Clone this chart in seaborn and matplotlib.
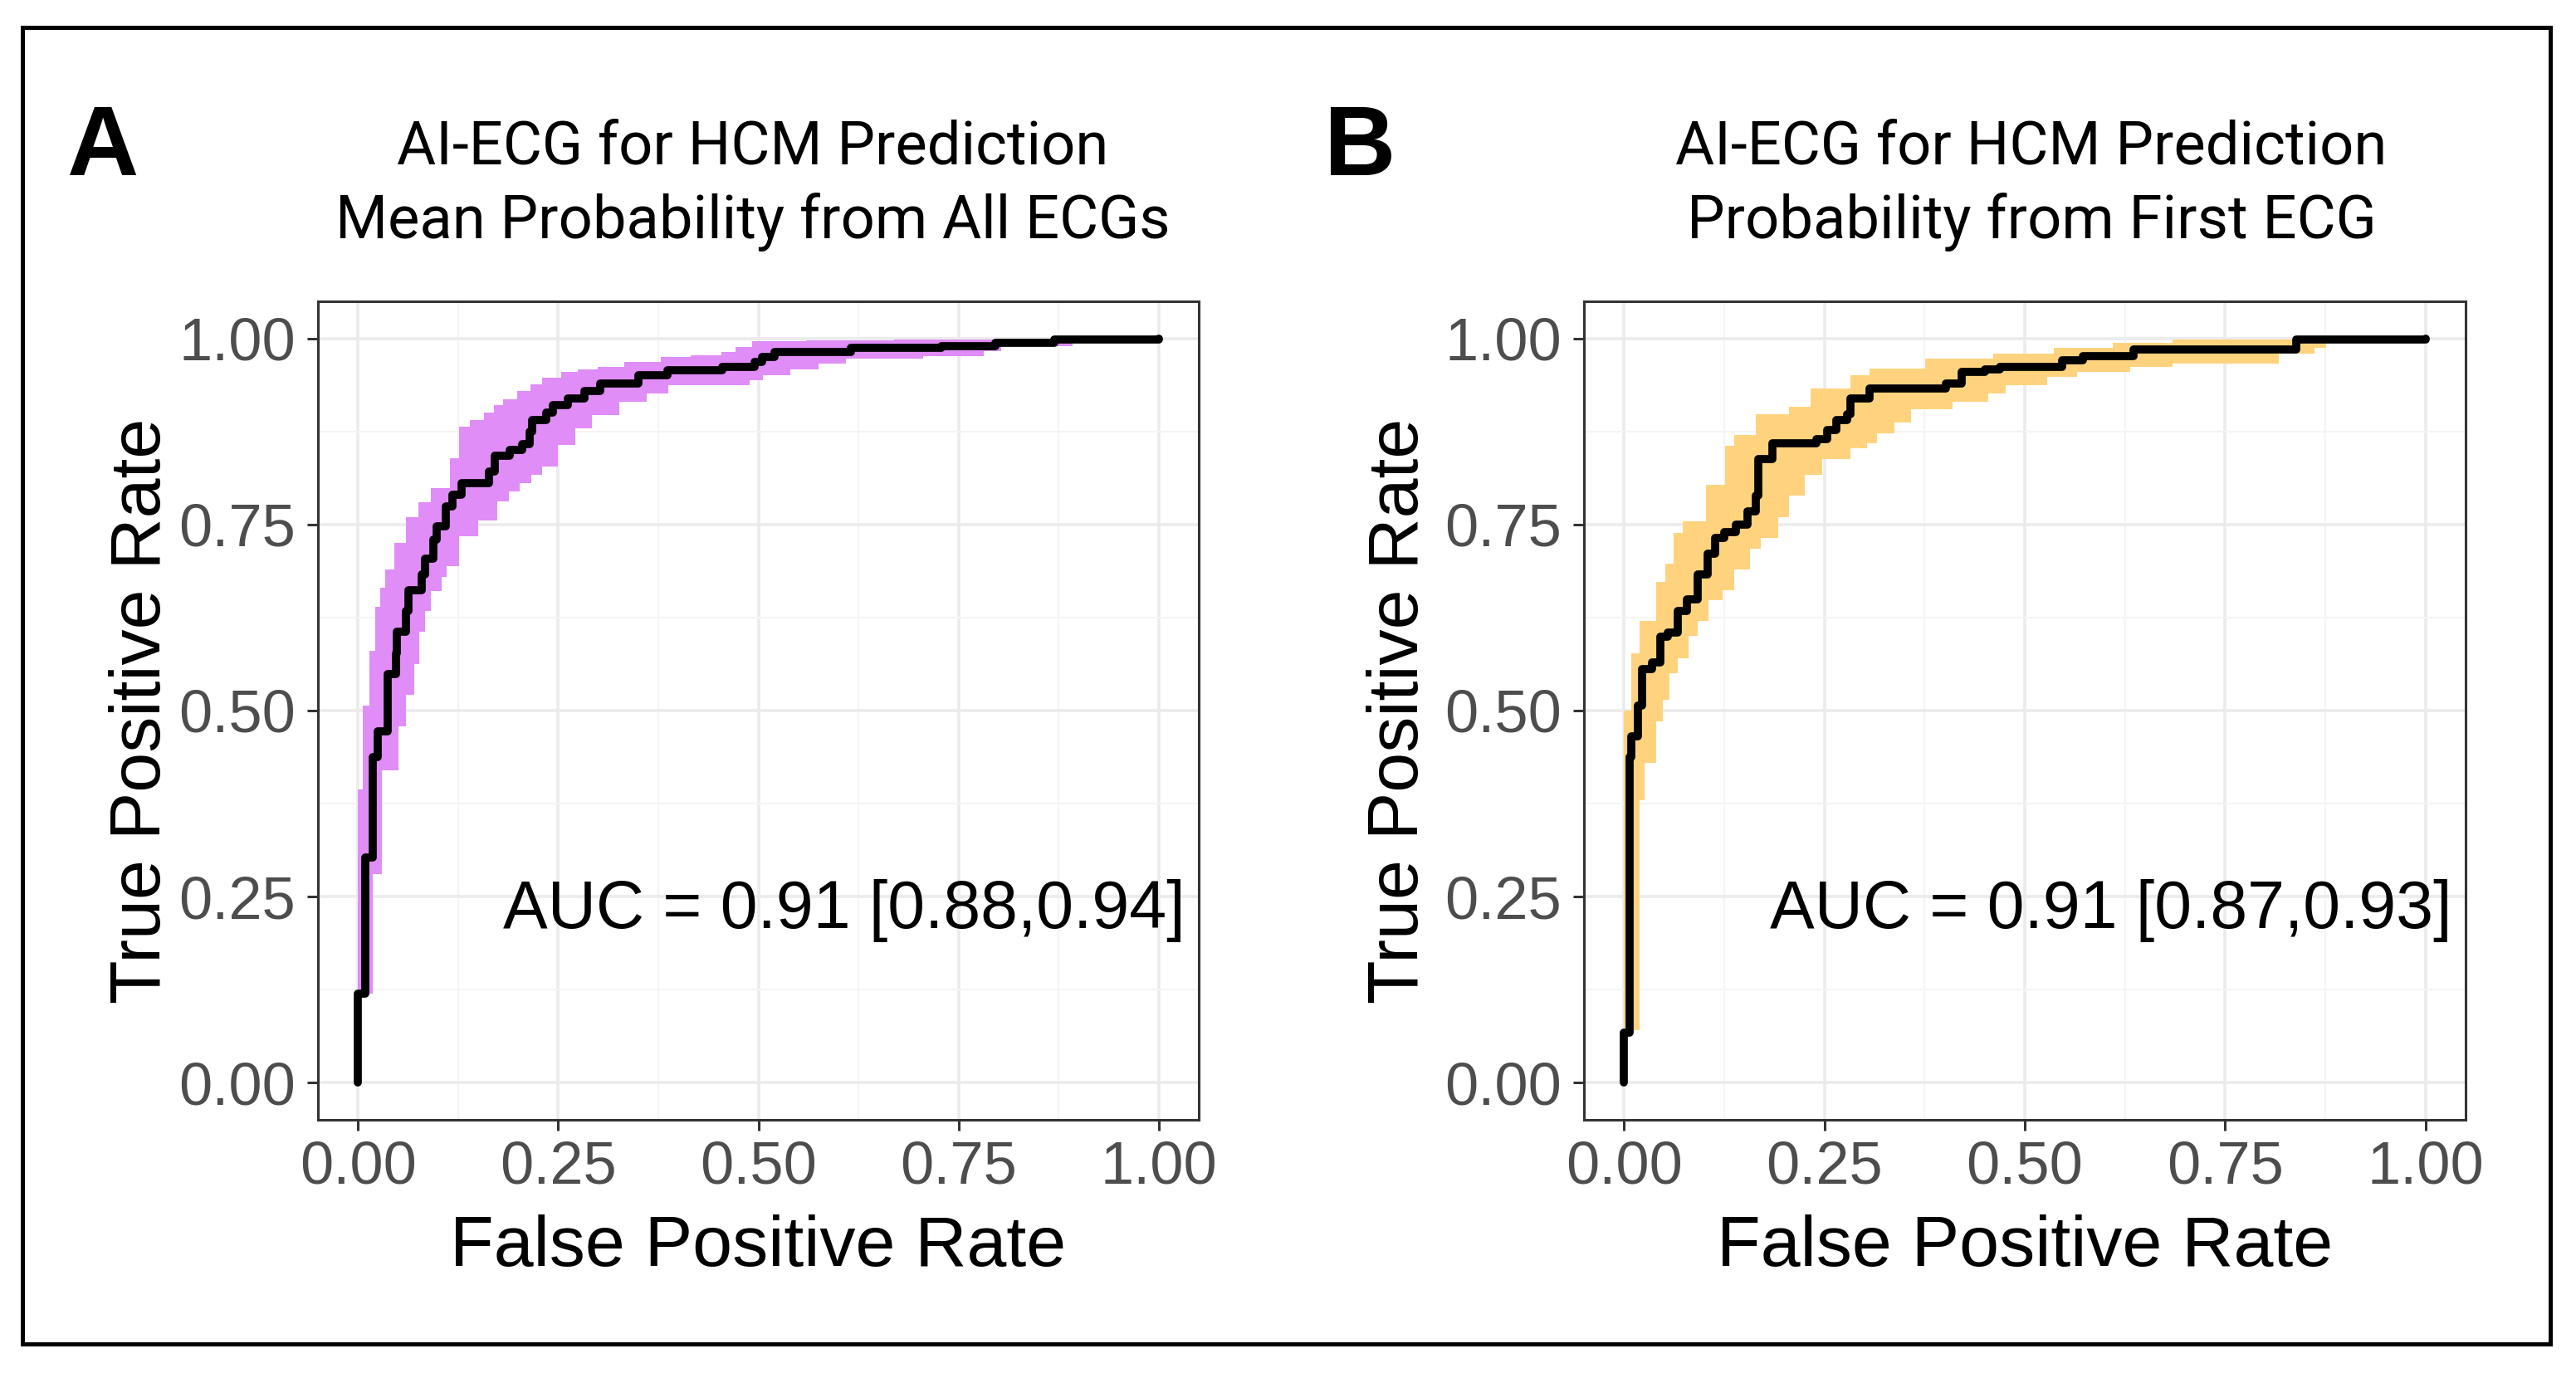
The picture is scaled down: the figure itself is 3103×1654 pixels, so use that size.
import numpy as np
import pandas as pd
import matplotlib
matplotlib.use("Agg")
import matplotlib.pyplot as plt
import seaborn as sns
from matplotlib.patches import Rectangle
from matplotlib.ticker import MultipleLocator, FormatStrFormatter

# ---------------- data ----------------
# Panel A: mean probability from all ECGs
a_fpr = [0, 0, 0.0096, 0.018, 0.025, 0.037, 0.0475, 0.049, 0.060, 0.063,
         0.080, 0.084, 0.094, 0.098, 0.110, 0.118, 0.129, 0.164, 0.171, 0.190,
         0.205, 0.214, 0.218, 0.235, 0.243, 0.262, 0.283, 0.302, 0.350, 0.386,
         0.455, 0.495, 0.505, 0.520, 0.616, 0.729, 0.796, 0.870, 1.0]
a_tpr = [0, 0.12, 0.303, 0.437, 0.472, 0.549, 0.577, 0.606, 0.634, 0.662,
         0.683, 0.704, 0.730, 0.748, 0.774, 0.790, 0.806, 0.821, 0.842, 0.850,
         0.858, 0.875, 0.890, 0.900, 0.911, 0.920, 0.929, 0.940, 0.951, 0.957,
         0.962, 0.969, 0.975, 0.982, 0.987, 0.990, 0.994, 0.999, 1.0]
a_hi_x = [0, 0.006, 0.014, 0.022, 0.028, 0.034, 0.045, 0.060, 0.075, 0.0915,
          0.115, 0.126, 0.140, 0.157, 0.170, 0.181, 0.199, 0.215, 0.230, 0.254,
          0.275, 0.299, 0.333, 0.378, 0.415, 0.454, 0.471, 0.492, 0.560, 0.669,
          0.796, 1.0]
a_hi_y = [0.394, 0.507, 0.580, 0.640, 0.665, 0.690, 0.725, 0.760, 0.780, 0.799,
          0.839, 0.882, 0.890, 0.900, 0.910, 0.918, 0.929, 0.938, 0.947, 0.955,
          0.958, 0.962, 0.969, 0.975, 0.978, 0.982, 0.989, 0.996, 0.998, 0.999,
          1.0, 1.0]
a_lo_x = [0, 0.018, 0.030, 0.051, 0.060, 0.070, 0.077, 0.084, 0.0915, 0.104,
          0.111, 0.126, 0.150, 0.174, 0.188, 0.202, 0.216, 0.230, 0.250, 0.271,
          0.292, 0.326, 0.361, 0.388, 0.489, 0.506, 0.540, 0.575, 0.609, 0.706,
          0.781, 0.803, 0.892, 1.0]
a_lo_y = [0.12, 0.28, 0.42, 0.479, 0.521, 0.563, 0.606, 0.634, 0.661, 0.680,
          0.694, 0.734, 0.755, 0.781, 0.794, 0.806, 0.817, 0.828, 0.857, 0.879,
          0.897, 0.915, 0.926, 0.937, 0.944, 0.951, 0.958, 0.966, 0.973, 0.976,
          0.983, 0.990, 0.999, 1.0]

# Panel B: probability from first ECG
b_fpr = [0, 0, 0.007, 0.0086, 0.017, 0.0225, 0.035, 0.045, 0.055, 0.067, 0.078, 0.092,
         0.104, 0.114, 0.125, 0.140, 0.154, 0.164, 0.168, 0.185, 0.240, 0.254, 0.265,
         0.278, 0.282, 0.306, 0.402, 0.421, 0.450, 0.469, 0.547, 0.573, 0.636, 0.839, 1.0]
b_tpr = [0, 0.067, 0.437, 0.465, 0.507, 0.556, 0.565, 0.599, 0.605, 0.634, 0.650, 0.683,
         0.711, 0.732, 0.740, 0.750, 0.768, 0.789, 0.838, 0.859, 0.865, 0.877, 0.890,
         0.898, 0.919, 0.933, 0.940, 0.955, 0.958, 0.962, 0.971, 0.976, 0.985, 0.999, 1.0]
b_hi_x = [0, 0.0086, 0.019, 0.040, 0.052, 0.062, 0.073, 0.102, 0.126, 0.137, 0.164, 0.206,
          0.233, 0.282, 0.306, 0.376, 0.461, 0.536, 0.610, 0.684, 1.0]
b_hi_y = [0.50, 0.577, 0.62, 0.673, 0.697, 0.739, 0.754, 0.803, 0.856, 0.870, 0.898, 0.908,
          0.933, 0.951, 0.960, 0.973, 0.980, 0.987, 0.994, 0.999, 1.0]
b_lo_x = [0, 0.019, 0.026, 0.040, 0.048, 0.057, 0.067, 0.081, 0.092, 0.105, 0.123, 0.137,
          0.157, 0.171, 0.192, 0.206, 0.226, 0.247, 0.282, 0.303, 0.316, 0.337, 0.358,
          0.410, 0.454, 0.476, 0.528, 0.565, 0.632, 0.684, 0.817, 0.861, 0.876, 1.0]
b_lo_y = [0.07, 0.38, 0.43, 0.486, 0.514, 0.55, 0.57, 0.60, 0.62, 0.648, 0.662, 0.69,
          0.718, 0.732, 0.76, 0.789, 0.817, 0.838, 0.852, 0.859, 0.873, 0.887, 0.905,
          0.915, 0.926, 0.937, 0.948, 0.955, 0.962, 0.966, 0.98, 0.987, 1.0, 1.0]

panel_letters = ["A", "B"]
title_line1 = ["AI-ECG for HCM Prediction", "AI-ECG for HCM Prediction"]
title_line2 = ["Mean Probability from All ECGs", "Probability from First ECG"]
auc_labels = ["AUC = 0.91 [0.88,0.94]", "AUC = 0.91 [0.87,0.93]"]
band_colors = ["#E08DF7", "#FFD37E"]
x_label = "False Positive Rate"
y_label = "True Positive Rate"
ticks = [0, 0.25, 0.5, 0.75, 1.0]

# ---------------- style ----------------
sns.set_theme(style="white")
plt.rcParams["font.family"] = ["Liberation Sans", "DejaVu Sans"]

W, H = 3103, 1654
fig = plt.figure(figsize=(W / 100, H / 100), dpi=100)
fig.patch.set_facecolor("white")


def fx(x):
    return x / W


def fy(y):
    return 1 - y / H


def add_ax(l, t, r, b):
    return fig.add_axes([l / W, 1 - b / H, (r - l) / W, (b - t) / H])


def step_path(xs, ys):
    px, py = [xs[0]], [ys[0]]
    for i in range(1, len(xs)):
        px += [xs[i], xs[i]]
        py += [ys[i - 1], ys[i]]
    return px, py


def draw_panel(ax, fpr, tpr, hx, hy, lx, ly, color, auc):
    ux, uy = step_path(hx, hy)
    dx, dy = step_path(lx, ly)
    ax.fill(ux + dx[::-1], uy + dy[::-1], color=color, lw=0, zorder=2)
    df = pd.DataFrame({"fpr": fpr, "tpr": tpr})
    sns.lineplot(data=df, x="fpr", y="tpr", ax=ax, sort=False, estimator=None,
                 drawstyle="steps-post", color="black", lw=7, zorder=3)
    ax.set_xlim(-0.05, 1.05)
    ax.set_ylim(-0.05, 1.05)
    ax.set_xticks(ticks)
    ax.set_yticks(ticks)
    ax.xaxis.set_minor_locator(MultipleLocator(0.125))
    ax.yaxis.set_minor_locator(MultipleLocator(0.125))
    ax.xaxis.set_major_formatter(FormatStrFormatter("%.2f"))
    ax.yaxis.set_major_formatter(FormatStrFormatter("%.2f"))
    ax.grid(which="major", color="#EBEBEB", lw=2.6)
    ax.grid(which="minor", color="#F4F4F4", lw=1.5)
    ax.set_axisbelow(True)
    ax.tick_params(which="major", length=9.4, width=2.2, color="#333333",
                   labelsize=52, labelcolor="#4D4D4D")
    ax.tick_params(axis="y", which="major", pad=10, left=True)
    ax.tick_params(axis="x", which="major", pad=8, bottom=True)
    ax.tick_params(which="minor", length=0)
    for s in ax.spines.values():
        s.set_color("#333333")
        s.set_linewidth(2.2)
    ax.set_xlabel("")
    ax.set_ylabel("")
    ax.text(1.033, 0.208, auc, ha="right", va="baseline", fontsize=58,
            color="black", zorder=4)


panels = [
    (383, 1444, a_fpr, a_tpr, a_hi_x, a_hi_y, a_lo_x, a_lo_y),
    (1908, 2970, b_fpr, b_tpr, b_hi_x, b_hi_y, b_lo_x, b_lo_y),
]
title_cx = [907, 2447]
letter_x = [80, 1595]
ylab_x = [193, 1708]

for i, (l, r, fp, tp, hx, hy, lx, ly) in enumerate(panels):
    ax = add_ax(l, 363, r, 1349)
    draw_panel(ax, fp, tp, hx, hy, lx, ly, band_colors[i], auc_labels[i])
    cx = (l + r) / 2
    fig.text(fx(cx), fy(1525), x_label, ha="center", va="baseline", fontsize=62, color="black")
    fig.text(fx(ylab_x[i]), fy(856), y_label, ha="center", va="baseline", rotation=90,
             rotation_mode="anchor", fontsize=62, color="black")
    fig.text(fx(title_cx[i]), fy(198), title_line1[i], ha="center", va="baseline",
             fontsize=52, family=["Roboto", "DejaVu Sans"], color="black")
    fig.text(fx(title_cx[i]), fy(287), title_line2[i], ha="center", va="baseline",
             fontsize=52, family=["Roboto", "DejaVu Sans"], color="black")
    fig.text(fx(letter_x[i]), fy(211), panel_letters[i], ha="left", va="baseline",
             fontsize=86, fontweight="bold", color="black")

# outer frame
fig.add_artist(Rectangle((fx(27), fy(1619)), (3072 - 27) / W, (1619 - 33) / H,
                         transform=fig.transFigure, fill=False, edgecolor="black", lw=3.6))

fig.savefig("out.png", dpi=100, facecolor="white")
